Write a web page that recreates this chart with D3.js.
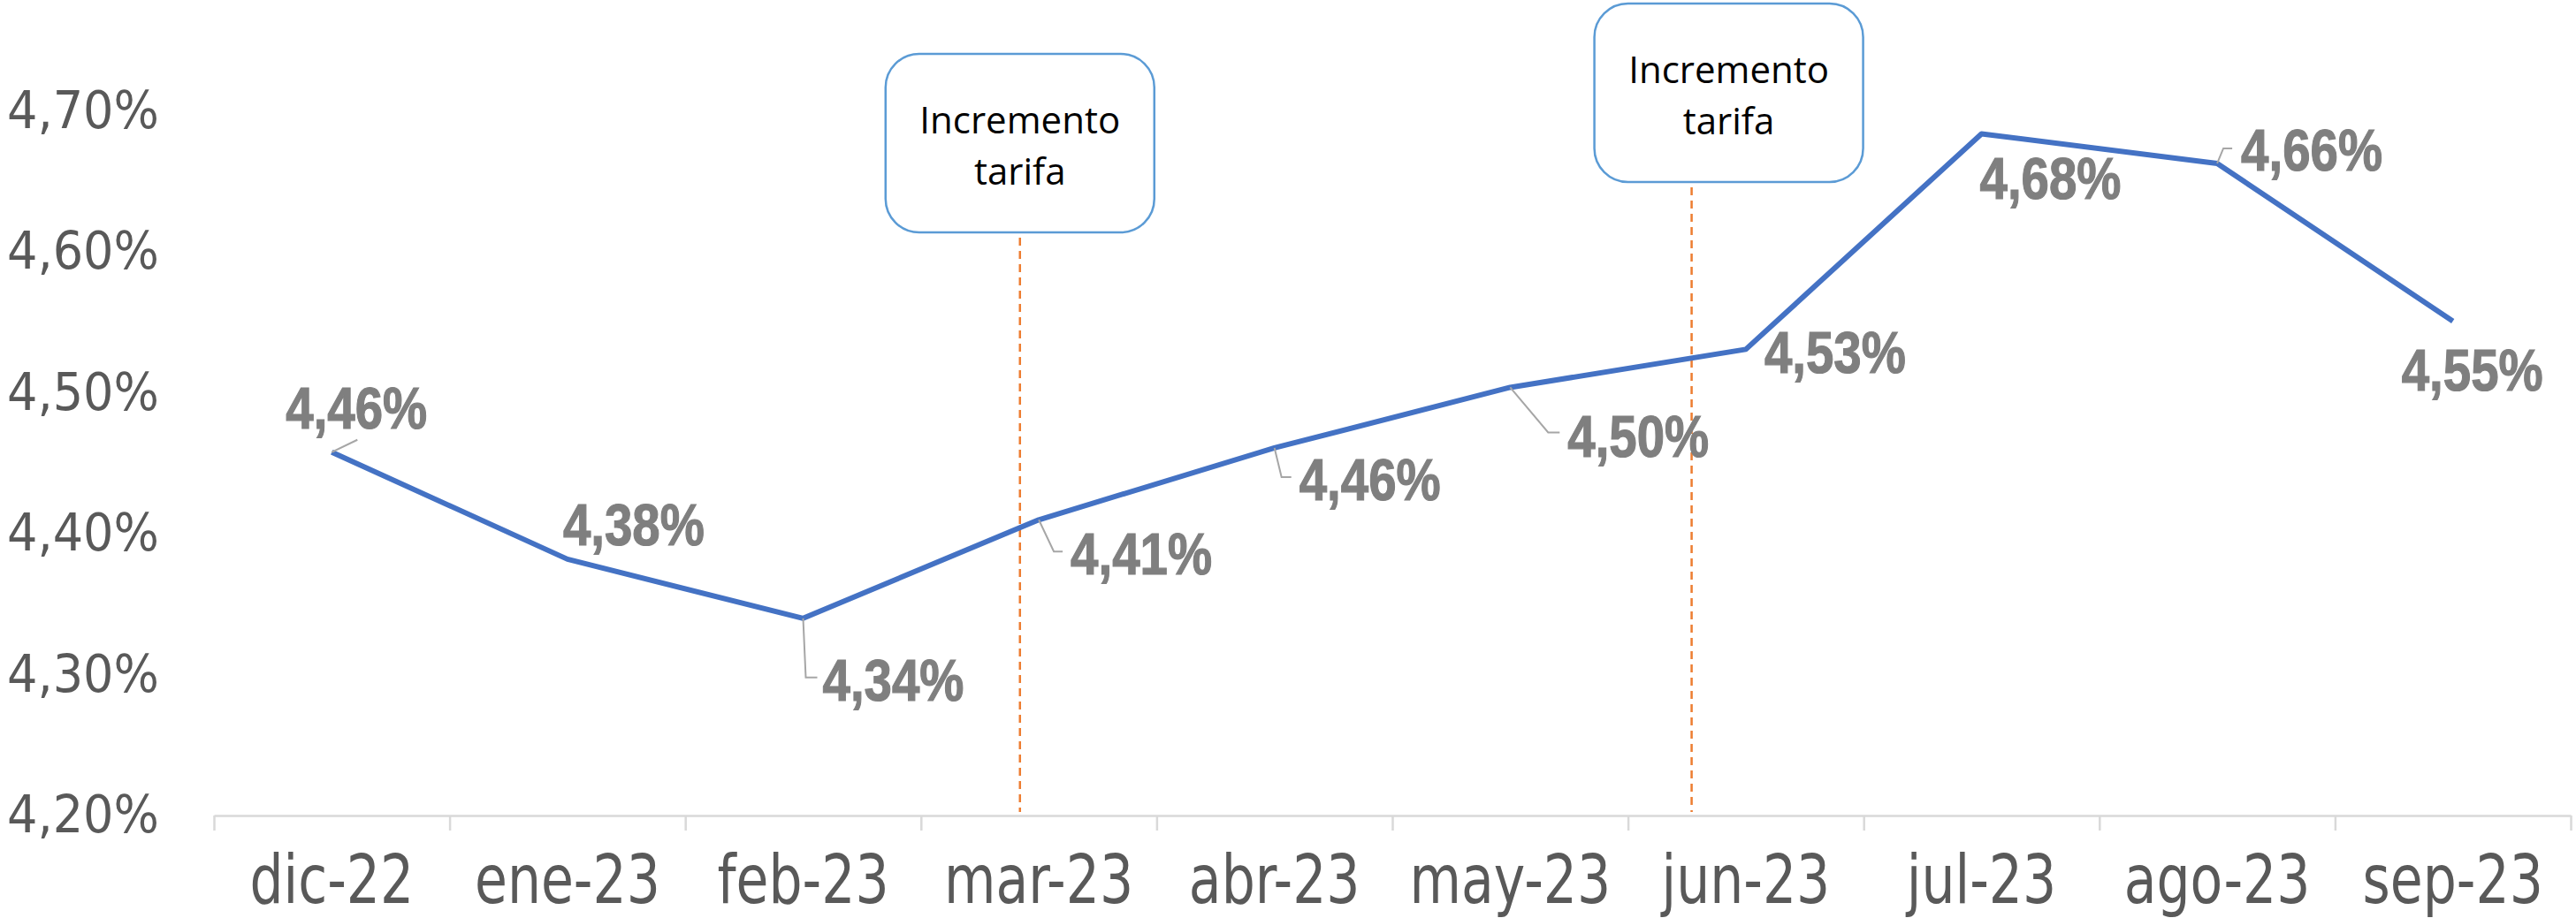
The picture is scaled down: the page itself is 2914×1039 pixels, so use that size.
<!DOCTYPE html>
<html lang="es">
<head>
<meta charset="utf-8" />
<title>Tasa mensual</title>
<script src="https://d3js.org/d3.v7.min.js"></script>
<style>
  body { margin: 0; background: #fff; }
  svg { display: block; }
</style>
</head>
<body>
<script>
// data
var categories = ["dic-22", "ene-23", "feb-23", "mar-23", "abr-23", "may-23", "jun-23", "jul-23", "ago-23", "sep-23"];
var values = [4.458, 4.382, 4.340, 4.410, 4.461, 4.504, 4.531, 4.684, 4.663, 4.551];
var yTicks = [4.20, 4.30, 4.40, 4.50, 4.60, 4.70];
var noteText = ["Incremento", "tarifa"];
var notePos = [2.92, 5.77]; // in category index units

var w = 2914;
var h = 1039;

var es = d3.formatLocale({decimal: ",", thousands: ".", grouping: [3], currency: ["", " €"]});
var pct = function(v) { return es.format(".2%")(v / 100); };

var x = d3.scaleBand().domain(categories).range([242, 2908]);
var xi = d3.scaleLinear().domain([-0.5, categories.length - 0.5]).range([242, 2908]);
var y = d3.scaleLinear().domain([4.2, 4.7]).range([923, 126]);

var svg = d3.select("body").append("svg")
  .attr("width", w)
  .attr("height", h);

// x axis line + ticks between categories
var gx = svg.append("g")
  .attr("transform", "translate(0," + y(4.2) + ")")
  .call(d3.axisBottom(xi).tickValues(d3.range(-0.5, categories.length)).tickSize(17).tickSizeOuter(0).tickFormat(""));
gx.selectAll("path, line").attr("stroke", "#d9d9d9").attr("stroke-width", 2.5);

// x labels
var gxl = svg.append("g")
  .attr("transform", "translate(0," + y(4.2) + ")")
  .call(d3.axisBottom(x).tickSize(0));
gxl.select(".domain").remove();
gxl.selectAll("text")
  .attr("y", 0)
  .attr("dy", 0)
  .attr("transform", "translate(0,99) scale(1,1.28)")
  .attr("fill", "#595959")
  .style("font-family", "'DejaVu Sans', sans-serif")
  .style("font-size", "60px");

// y labels
var gy = svg.append("g")
  .attr("transform", "translate(242,0)")
  .call(d3.axisLeft(y).tickValues(yTicks).tickSize(0).tickPadding(62).tickFormat(function(d) { return es.format(".2f")(d) + "%"; }));
gy.select(".domain").remove();
gy.selectAll("text")
  .attr("fill", "#595959")
  .attr("textLength", 172)
  .attr("lengthAdjust", "spacingAndGlyphs")
  .style("font-family", "'DejaVu Sans', sans-serif")
  .style("font-size", "58px");

// annotation boxes + dashed lines
var boxTop = [61, 4];
var boxW = 304, boxH = 202, boxShift = [0, 42];
notePos.forEach(function(p, k) {
  var cx = xi(p);
  svg.append("line")
    .attr("x1", cx).attr("x2", cx)
    .attr("y1", boxTop[k] + boxH + 6).attr("y2", y(4.2) - 4)
    .attr("stroke", "#ed7d31")
    .attr("stroke-width", 2.5)
    .attr("stroke-dasharray", "9,6");
  var bx = cx + boxShift[k] - boxW / 2;
  svg.append("rect")
    .attr("x", bx).attr("y", boxTop[k])
    .attr("width", boxW).attr("height", boxH)
    .attr("rx", 38).attr("ry", 38)
    .attr("fill", "#fff")
    .attr("stroke", "#5b9bd5")
    .attr("stroke-width", 2.5);
  svg.append("g").selectAll("text")
    .data(noteText)
    .enter()
    .append("text")
    .attr("x", bx + boxW / 2)
    .attr("y", function(d, i) { return boxTop[k] + 90 + i * 58; })
    .attr("text-anchor", "middle")
    .attr("fill", "#000")
    .style("font-family", "'Open Sans', sans-serif")
    .style("font-size", "42px")
    .text(function(d) { return d; });
});

// series line
var line = d3.line()
  .x(function(d, i) { return x(categories[i]) + x.bandwidth() / 2; })
  .y(function(d) { return y(d); });

svg.append("path")
  .datum(values)
  .attr("d", line)
  .attr("fill", "none")
  .attr("stroke", "#4472c4")
  .attr("stroke-width", 6)
  .attr("stroke-linejoin", "round");

// data label placement (offset of label centre from the point) and leader elbows
var labelOff = [[28, -51], [75, -40], [102, 69], [116, 38], [108, 35], [145, 55], [101, 3], [78, 50], [107, -16], [22, 55]];
var leader = [[[29, -14], [29, -14]], null, [[3, 67], [16, 67]], [[17, 36], [27, 36]], [[8, 33], [19, 33]],
  [[43, 51], [56, 51]], null, null, [[7, -17], [17, -17]], null];

var pts = values.map(function(v, i) {
  return [x(categories[i]) + x.bandwidth() / 2, y(v)];
});

pts.forEach(function(p, i) {
  if (!leader[i]) return;
  var a = leader[i][0], b = leader[i][1];
  svg.append("path")
    .attr("d", "M" + p[0] + "," + p[1] + "L" + (p[0] + a[0]) + "," + (p[1] + a[1]) + "L" + (p[0] + b[0]) + "," + (p[1] + b[1]))
    .attr("fill", "none")
    .attr("stroke", "#a6a6a6")
    .attr("stroke-width", 2);
});

svg.append("g").selectAll("text")
  .data(values)
  .enter()
  .append("text")
  .attr("x", function(d, i) { return pts[i][0] + labelOff[i][0]; })
  .attr("y", function(d, i) { return pts[i][1] + labelOff[i][1]; })
  .attr("dy", "0.36em")
  .attr("text-anchor", "middle")
  .attr("textLength", 160)
  .attr("lengthAdjust", "spacingAndGlyphs")
  .attr("fill", "#7f7f7f")
  .attr("stroke", "#7f7f7f")
  .attr("stroke-width", 1.2)
  .style("font-family", "'Liberation Sans', sans-serif")
  .style("font-weight", "bold")
  .style("font-size", "66px")
  .text(function(d) { return pct(d); });
</script>
</body>
</html>
